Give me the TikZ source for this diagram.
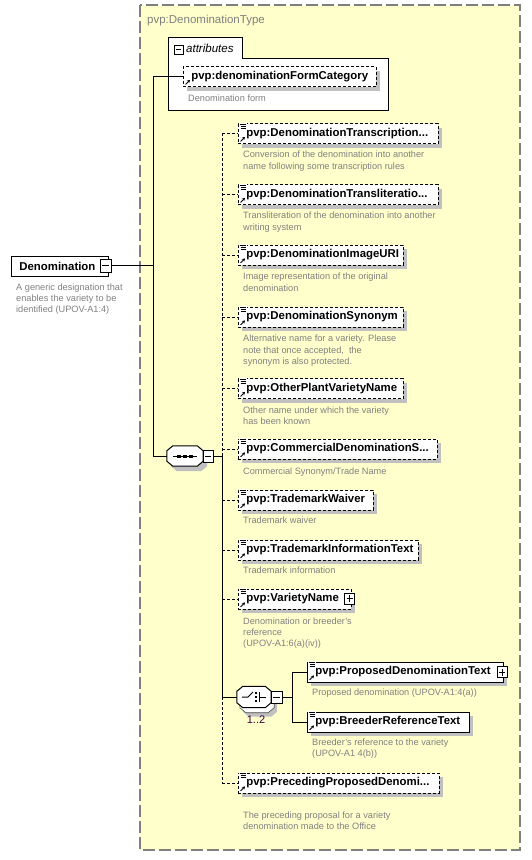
\documentclass[tikz,border=0pt]{standalone}
\usepackage{fontspec}
\setmainfont{Liberation Sans}
\usepackage{xcolor}
\usetikzlibrary{shadows,arrows.meta}
\definecolor{bgyellow}{RGB}{255,255,204}
\definecolor{framegray}{RGB}{128,128,128}
\definecolor{descgray}{RGB}{128,128,128}
\definecolor{shadowgray}{RGB}{192,192,192}
\definecolor{occurs}{RGB}{64,0,64}
\newcommand\ename[2]{\makebox[#1pt][l]{\hspace{8pt}#2}}
\newcommand\octpath[1]{([xshift=6pt]#1.north west) -- ([xshift=-6pt]#1.north east) -- ([yshift=-5pt]#1.north east)
  -- ([yshift=5pt]#1.south east) -- ([xshift=-6pt]#1.south east) -- ([xshift=6pt]#1.south west)
  -- ([yshift=5pt]#1.south west) -- ([yshift=-5pt]#1.north west) -- cycle}
\tikzset{
  topel/.style={draw=black,fill=white,anchor=west,minimum height=20pt,inner sep=0pt,line width=0.8pt,font=\fontsize{11.4}{13}\selectfont\bfseries},
  elem/.style={topel,general shadow={fill=shadowgray,shadow xshift=4pt,shadow yshift=-4pt}},
  optelem/.style={elem,dash pattern=on 3pt off 2pt},
  desc/.style={anchor=north west,align=left,inner sep=0pt,text=descgray,font=\fontsize{9.2}{11.3}\selectfont},
  compbox/.style={rectangle,inner sep=0pt},
  compline/.style={draw=black,fill=white,line width=1pt},
  tog/.style={draw,fill=white,inner sep=0pt,minimum width=10pt,minimum height=12pt,line width=1pt,
    path picture={\draw[line width=1pt] ([xshift=2pt]path picture bounding box.west) -- ([xshift=-2pt]path picture bounding box.east);}},
  plus/.style={draw,fill=white,inner sep=0pt,minimum width=10pt,minimum height=11pt,line width=0.8pt,
    path picture={\draw[line width=0.8pt] ([xshift=2pt]path picture bounding box.west) -- ([xshift=-2pt]path picture bounding box.east)
      ([yshift=2pt]path picture bounding box.south) -- ([yshift=-2pt]path picture bounding box.north);}},
  conn/.style={line width=1pt},
  optconn/.style={conn,dash pattern=on 3pt off 2pt}
}
\begin{document}
\begin{tikzpicture}[x=1pt,y=-1pt]
\useasboundingbox (0,0) rectangle (531,860);
\draw[framegray,line width=1.5pt,dash pattern=on 12pt off 4pt,fill=bgyellow] (140,5) rectangle (520,850);
\node[anchor=base west,inner sep=0pt,text=framegray,font=\fontsize{11.5}{13}\selectfont] (ttl) at (147,23) {pvp:DenominationType};

\node[topel] (denom) at (11,266) {\ename{97}{Denomination}};
\node[tog,minimum width=11pt,minimum height=13pt] (dent) at (105.5,265.5) {};
\node[desc,font=\fontsize{9.2}{11}\selectfont] (ddenom) at (16,283.5) {A generic designation that\\enables the variety to be\\identified (UPOV-A1:4)};

\node[fill=white,anchor=north west,minimum width=220pt,minimum height=52pt,inner sep=0pt] (atts) at (168,58) {};
\node[fill=white,anchor=south west,minimum width=74pt,minimum height=20pt,inner sep=0pt] (atab) at (168,58) {};
\draw[line width=1pt] (atab.south east) -- (atts.north east) -- (atts.south east) -- (atts.south west)
  -- (atab.north west) -- (atab.north east) -- (atab.south east);
\node[tog,minimum width=9pt,minimum height=9pt] (atog) at (178.5,49.5) {};
\node[anchor=base west,inner sep=0pt,font=\itshape\fontsize{11.5}{13}\selectfont] (alab) at (186,52) {attributes};
\node[optelem] (dfc) at (183,76.5) {\ename{193}{pvp:denominationFormCategory}};
\node[desc] (ddfc) at (188,94.5) {Denomination form};

\node[optelem] (trans) at (238,133.5) {\ename{200}{pvp:DenominationTranscription...}};
\node[optelem] (translit) at (238,194.5) {\ename{200}{pvp:DenominationTransliteratio...}};
\node[optelem] (img) at (238,255) {\ename{165}{pvp:DenominationImageURI}};
\node[optelem] (syn) at (238,317) {\ename{165}{pvp:DenominationSynonym}};
\node[optelem] (other) at (238,388.5) {\ename{165}{pvp:OtherPlantVarietyName}};
\node[optelem] (comm) at (238,449) {\ename{199}{pvp:CommercialDenominationS...}};
\node[optelem] (waiver) at (238,500) {\ename{135}{pvp:TrademarkWaiver}};
\node[optelem] (tminfo) at (238,550) {\ename{180}{pvp:TrademarkInformationText}};
\node[optelem] (variety) at (238,599) {\ename{113}{pvp:VarietyName}};
\node[plus] (varp) at (349.5,598.5) {};
\node[elem] (prop) at (307,672) {\ename{196}{pvp:ProposedDenominationText}};
\node[plus] (propp) at (502,672) {};
\node[elem] (breed) at (307,722) {\ename{162}{pvp:BreederReferenceText}};
\node[optelem] (prec) at (238,783) {\ename{201}{pvp:PrecedingProposedDenomi...}};

\node[desc] (dtrans) at (243,151) {Conversion of the denomination into another\\name following some transcription rules};
\node[desc] (dtranslit) at (243,212) {Transliteration of the denomination into another\\writing system};
\node[desc] (dimg) at (243,273) {Image representation of the original\\denomination};
\node[desc] (dsyn) at (243,335) {Alternative name for a variety. Please\\note that once accepted,\ \ the\\synonym is also protected.};
\node[desc] (dother) at (243,406.5) {Other name under which the variety\\has been known};
\node[desc] (dcomm) at (243,467.5) {Commercial Synonym/Trade Name};
\node[desc] (dwaiver) at (243,516.5) {Trademark waiver};
\node[desc] (dtminfo) at (243,566.5) {Trademark information};
\node[desc] (dvariety) at (243,617.5) {Denomination or breeder's\\reference\\(UPOV-A1:6(a)(iv))};
\node[desc] (dprop) at (312,688.5) {Proposed denomination (UPOV-A1:4(a))};
\node[desc] (dbreed) at (312,738.5) {Breeder's reference to the variety\\(UPOV-A1 4(b))};
\node[desc] (dprec) at (243,811.5) {The preceding proposal for a variety\\denomination made to the Office};

\node[compbox,minimum width=36pt,minimum height=20pt] (seq) at (185,456) {};
\fill[shadowgray,transform canvas={shift={(4pt,-5pt)}}] \octpath{seq};
\draw[compline] \octpath{seq};
\node[tog] (seqt) at (208,456) {};
\draw[line width=1pt] ([xshift=-12pt]seq.center) -- ([xshift=12pt]seq.center);
\foreach \dx in {-6,0,6}
  \fill ([shift={(\dx-1.8,-1.5)}]seq.center) rectangle ++(3.6,3);

\node[compbox,minimum width=34pt,minimum height=21pt] (cho) at (254,697) {};
\node[compbox,minimum width=34pt,minimum height=21pt] (chos) at (257,702) {};
\fill[shadowgray,transform canvas={shift={(3pt,-4pt)}}] \octpath{chos};
\draw[compline,line width=0.6pt,draw=black!70] \octpath{chos};
\draw[compline] \octpath{cho};
\node[tog,minimum width=11pt] (chot) at (276.5,697) {};
\draw[line width=1pt] ([xshift=-12pt]cho.center) -- ++(6,0) -- ++(5,-5);
\draw[line width=1pt] ([shift={(5,-5)}]cho.center) -- ++(0,10);
\draw[line width=1pt] ([xshift=5pt]cho.center) -- ++(7,0);
\foreach \dy in {-4,0,4}
  \fill ([shift={(0.8,\dy-1.3)}]cho.center) rectangle ++(2.6,2.6);
\node[inner sep=0pt,text=occurs,font=\fontsize{11}{13}\selectfont] (occ) at (256,720) {1..2};

\foreach \n in {trans,translit,img,syn,other,comm,waiver,tminfo,variety,prop,breed,prec}{
  \fill[white] ([shift={(0.6,-0.6)}]\n.north west) rectangle ++(8,6);
  \draw[line width=0.8pt] ([shift={(1.5,0.8)}]\n.north west) -- ++(6,0);
  \draw[line width=0.8pt] ([shift={(2.5,2.8)}]\n.north west) -- ++(5,0);
  \draw[line width=0.8pt] ([shift={(2.5,4.8)}]\n.north west) -- ++(5,0);
}
\foreach \n in {dfc,trans,translit,img,syn,other,comm,waiver,tminfo,variety,prop,breed,prec}
  \draw[line width=0.9pt,-{Stealth[length=3pt,width=3.4pt]}] ([shift={(2.5,-2.5)}]\n.south west) -- ++(4.5,-4.5);

\coordinate (jA) at (153,265.5);
\coordinate (jB) at (222,456);
\coordinate (jC) at (292,697);
\draw[conn] (dent.east) -- (jA);
\draw[conn] (jA) |- (dfc.west);
\draw[conn] (jA) |- (seq.west);
\draw[conn] (seqt.east) -- (jB);
\draw[optconn] (jB) -- (jB |- trans.west);
\foreach \n in {trans,translit,img,syn,other,comm,waiver,tminfo,variety,prec}
  \draw[optconn] (jB |- \n.west) -- (\n.west);
\draw[conn] (jB) -- (jB |- cho.west) -- (cho.west);
\draw[optconn] (jB |- cho.west) -- (jB |- prec.west);
\draw[conn] (chot.east) -- (jC);
\draw[conn] (jC) |- (prop.west);
\draw[conn] (jC) |- (breed.west);
\end{tikzpicture}
\end{document}
